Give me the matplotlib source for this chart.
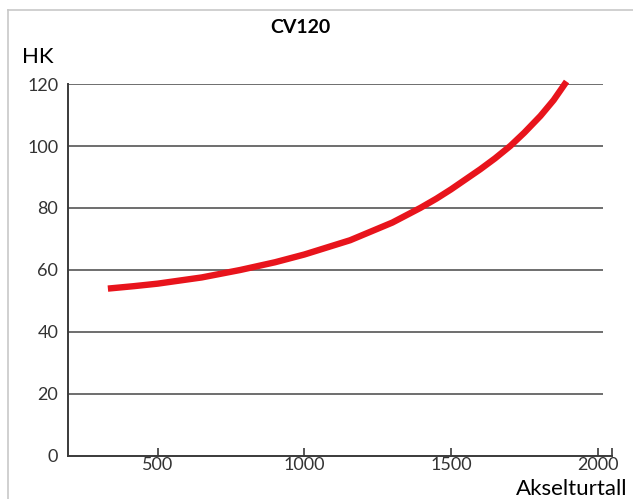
import matplotlib
matplotlib.use("Agg")
import matplotlib.pyplot as plt
from matplotlib.lines import Line2D

# omdreininger vs hestekrefter lest av figuren
rpm = [330, 420, 500, 650, 781, 900, 1000, 1156, 1300, 1395, 1450, 1500, 1600, 1650,
       1702, 1750, 1805, 1850, 1894]
hk = [54, 54.8, 55.6, 57.6, 60, 62.5, 65.0, 69.6, 75.3, 80, 83.0, 86.0, 92.5, 96.0,
      100, 104.3, 109.7, 114.8, 120.8]

xticks = [500, 1000, 1500, 2000]
yticks = [0, 20, 40, 60, 80, 100, 120]

plt.rcParams['font.family'] = ['Lato', 'DejaVu Sans']

fig = plt.figure(figsize=(6.33, 4.99), dpi=100)
ax = fig.add_axes([68/633, 43/499, 544/633, 372/499])

# ramme rundt bildet
fig.add_artist(Line2D([8/633, 8/633], [-0.1, 1 - 10/499], color='#c8c8c8', lw=1.2, transform=fig.transFigure))
fig.add_artist(Line2D([8/633, 1.1], [1 - 10/499, 1 - 10/499], color='#c8c8c8', lw=1.2, transform=fig.transFigure))

ax.set_xlim(194, 2049)
ax.set_ylim(0, 120)

# horisontale linjer
ax.hlines(yticks[1:], 194, 2018, color='#555555', lw=1.2, zorder=1)

ax.plot(rpm, hk, color='#e8141c', lw=4.6, solid_capstyle='butt', solid_joinstyle='round',
        zorder=3, clip_on=False)

for s in ['top', 'right']:
    ax.spines[s].set_visible(False)
for s in ['left', 'bottom']:
    ax.spines[s].set_color('#3a3a3a')
    ax.spines[s].set_linewidth(1.4)

ax.set_xticks(xticks + [2049])
ax.set_xticklabels(['500', '1000', '1500', '2000', ''])
ax.set_yticks(yticks)
ax.tick_params(axis='x', direction='in', length=6, width=1.2, color='#3a3a3a', pad=1,
               labelsize=13, labelcolor='#333333')
ax.tick_params(axis='y', length=0, pad=7, labelsize=13, labelcolor='#333333')

fig.text(300/633, 1 - 33/499, 'CV120', ha='center', va='baseline', fontsize=14, fontweight='bold')
fig.text(22/633, 1 - 62.7/499, 'HK', ha='left', va='baseline', fontsize=16)
fig.text(627/633, 4/499, 'Akselturtall', ha='right', va='baseline', fontsize=16)

fig.savefig('out.png', dpi=100)
